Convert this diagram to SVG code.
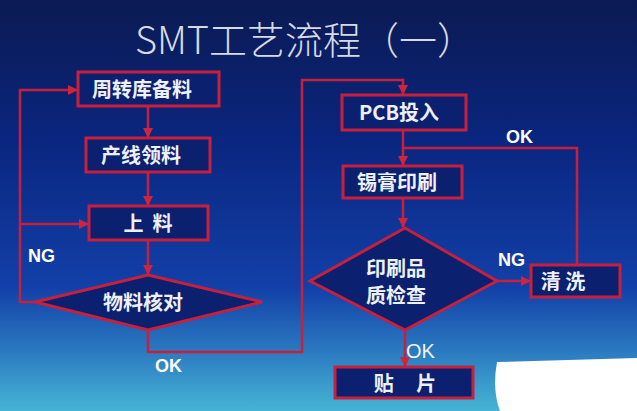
<svg xmlns="http://www.w3.org/2000/svg" width="637" height="411" viewBox="0 0 637 411">
<defs>
<linearGradient id="bg" x1="0" y1="0" x2="0" y2="1">
<stop offset="0" stop-color="#0b1a52"/>
<stop offset="0.35" stop-color="#0a2680"/>
<stop offset="0.7" stop-color="#1240a8"/>
<stop offset="0.85" stop-color="#2a78c0"/>
<stop offset="1" stop-color="#46b4d4"/>
</linearGradient>
<marker id="ar" viewBox="0 0 10 10" refX="9" refY="5" markerWidth="4" markerHeight="4" orient="auto" markerUnits="strokeWidth">
<path d="M0,0 L10,5 L0,10 z" fill="#d0243e"/>
</marker>
<style>
.box{fill:#0c2070;stroke:#c8203c;stroke-width:3}
.ln{fill:none;stroke:#c8203c;stroke-width:2.5}
.arr{fill:none;stroke:#c8203c;stroke-width:2.5;marker-end:url(#ar)}
.t{font-family:"Noto Sans CJK SC","Liberation Sans",sans-serif;font-size:20px;font-weight:bold;fill:#eef0f8;text-anchor:middle}
.lb{font-family:"Liberation Sans","Noto Sans CJK SC",sans-serif;font-size:18px;font-weight:bold;fill:#ffffff}
</style>
</defs>
<rect width="637" height="411" fill="url(#bg)"/>
<text x="305" y="54" font-family="'Noto Sans CJK SC','Liberation Sans',sans-serif" font-size="38" font-weight="300" fill="#d6dae6" text-anchor="middle">SMT工艺流程（一）</text>

<g id="connectors">
<line class="arr" x1="148" y1="107" x2="148" y2="137"/>
<line class="arr" x1="148" y1="173" x2="148" y2="205"/>
<line class="arr" x1="148" y1="241" x2="148" y2="274"/>
<polyline class="arr" points="35,302 20,302 20,90 77,90"/>
<line class="arr" x1="20" y1="224" x2="88" y2="224"/>
<polyline class="arr" points="148,330 148,352 302,352 302,80 403,80 403,94"/>
<line class="arr" x1="403" y1="131" x2="403" y2="165"/>
<polyline class="ln" points="403,148 577,148 577,264"/>
<line class="arr" x1="403" y1="199" x2="403" y2="227"/>
<line class="arr" x1="497" y1="281" x2="530" y2="281"/>
<line class="arr" x1="405" y1="330" x2="405" y2="366"/>
</g>

<g id="n1"><rect class="box" x="78" y="72" width="141" height="34"/><text class="t" x="142" y="97">周转库备料</text></g>
<g id="n2"><rect class="box" x="86" y="138" width="124" height="34"/><text class="t" x="141" y="163">产线领料</text></g>
<g id="n3"><rect class="box" x="89" y="206" width="119" height="34"/><text class="t" x="148" y="231" xml:space="preserve">上  料</text></g>
<g id="n4"><polygon class="box" points="148,275 262,302 148,330 35,302"/><text class="t" x="143" y="310">物料核对</text></g>
<g id="n5"><rect class="box" x="342" y="95" width="124" height="35"/><text class="t" x="399" y="120">PCB投入</text></g>
<g id="n6"><rect class="box" x="343" y="166" width="119" height="32"/><text class="t" x="397" y="190">锡膏印刷</text></g>
<g id="n7"><polygon class="box" points="405,228 497,281 405,330 310,281"/><text class="t" x="396" y="276">印刷品</text><text class="t" x="396" y="303">质检查</text></g>
<g id="n8"><rect class="box" x="531" y="265" width="89" height="32"/><text class="t" x="563" y="289" xml:space="preserve">清 洗</text></g>
<g id="n9"><rect class="box" x="335" y="367" width="138" height="31"/><text class="t" x="405" y="391" xml:space="preserve">贴     片</text></g>

<text class="lb" x="28" y="262">NG</text>
<text class="lb" x="155" y="372">OK</text>
<text class="lb" x="506" y="143">OK</text>
<text class="lb" x="498" y="266">NG</text>
<text x="406" y="358" font-family="'Liberation Sans',sans-serif" font-size="20" fill="#f2f4fa">OK</text>

<path d="M497,362 L637,358 L637,411 L500,411 Q492,390 497,362 z" fill="#ffffff"/>
</svg>
